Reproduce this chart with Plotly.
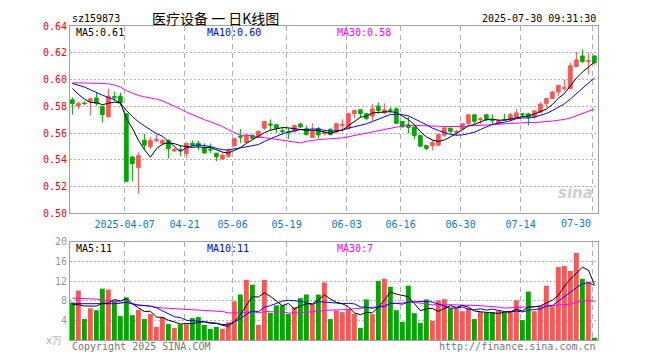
import plotly.graph_objects as go
import pandas as pd

dates = [
    "2025-03-24", "2025-03-25", "2025-03-26", "2025-03-27", "2025-03-28", "2025-03-31",
    "2025-04-01", "2025-04-02", "2025-04-03", "2025-04-07", "2025-04-08", "2025-04-09",
    "2025-04-10", "2025-04-11", "2025-04-14", "2025-04-15", "2025-04-16", "2025-04-17",
    "2025-04-18", "2025-04-21", "2025-04-22", "2025-04-23", "2025-04-24", "2025-04-25",
    "2025-04-28", "2025-04-29", "2025-04-30",
    "2025-05-06", "2025-05-07", "2025-05-08", "2025-05-09", "2025-05-12", "2025-05-13",
    "2025-05-14", "2025-05-15", "2025-05-16", "2025-05-19", "2025-05-20", "2025-05-21",
    "2025-05-22", "2025-05-23", "2025-05-26", "2025-05-27", "2025-05-28", "2025-05-29",
    "2025-05-30",
    "2025-06-03", "2025-06-04", "2025-06-05", "2025-06-06", "2025-06-09", "2025-06-10",
    "2025-06-11", "2025-06-12", "2025-06-13", "2025-06-16", "2025-06-17", "2025-06-18",
    "2025-06-19", "2025-06-20", "2025-06-23", "2025-06-24", "2025-06-25", "2025-06-26",
    "2025-06-27", "2025-06-30",
    "2025-07-01", "2025-07-02", "2025-07-03", "2025-07-04", "2025-07-07", "2025-07-08",
    "2025-07-09", "2025-07-10", "2025-07-11", "2025-07-14", "2025-07-15", "2025-07-16",
    "2025-07-17", "2025-07-18", "2025-07-21", "2025-07-22", "2025-07-23", "2025-07-24",
    "2025-07-25", "2025-07-28", "2025-07-29", "2025-07-30",
]

opens = [
    0.5849, 0.5802, 0.5824, 0.5837, 0.5863, 0.5798, 0.5722, 0.5873, 0.5876, 0.5744,
    0.5422, 0.5341, 0.5546, 0.5500, 0.5544, 0.5524, 0.5544, 0.5466, 0.5476, 0.5446,
    0.5524, 0.5524, 0.5488, 0.5481, 0.5450, 0.5406, 0.5426, 0.5505, 0.5577, 0.5529,
    0.5584, 0.5570, 0.5637, 0.5668, 0.5663, 0.5618, 0.5610, 0.5610, 0.5668, 0.5632,
    0.5567, 0.5634, 0.5596, 0.5630, 0.5610, 0.5656, 0.5634, 0.5745, 0.5774, 0.5745,
    0.5726, 0.5802, 0.5750, 0.5774, 0.5781, 0.5687, 0.5663, 0.5646, 0.5582, 0.5507,
    0.5505, 0.5510, 0.5584, 0.5637, 0.5606, 0.5630, 0.5671, 0.5737, 0.5700, 0.5737,
    0.5700, 0.5671, 0.5700, 0.5700, 0.5719, 0.5744, 0.5744, 0.5719, 0.5756, 0.5822,
    0.5859, 0.5907, 0.5932, 0.5932, 0.6098, 0.6176, 0.6134, 0.6176,
]
highs = [
    0.5866, 0.5834, 0.5837, 0.5863, 0.5900, 0.5805, 0.5932, 0.5910, 0.5902, 0.5749,
    0.5427, 0.5456, 0.5593, 0.5573, 0.5590, 0.5554, 0.5554, 0.5490, 0.5505, 0.5529,
    0.5544, 0.5544, 0.5522, 0.5522, 0.5450, 0.5450, 0.5486, 0.5565, 0.5630, 0.5591,
    0.5589, 0.5618, 0.5687, 0.5702, 0.5663, 0.5646, 0.5637, 0.5661, 0.5675, 0.5656,
    0.5673, 0.5646, 0.5618, 0.5630, 0.5670, 0.5702, 0.5752, 0.5774, 0.5774, 0.5745,
    0.5817, 0.5829, 0.5822, 0.5793, 0.5793, 0.5687, 0.5721, 0.5646, 0.5582, 0.5507,
    0.5548, 0.5589, 0.5646, 0.5637, 0.5625, 0.5670, 0.5737, 0.5737, 0.5719, 0.5741,
    0.5741, 0.5707, 0.5744, 0.5751, 0.5780, 0.5751, 0.5751, 0.5766, 0.5829, 0.5863,
    0.5915, 0.5956, 0.6000, 0.6127, 0.6207, 0.6225, 0.6200, 0.6183,
]
lows = [
    0.5739, 0.5778, 0.5810, 0.5732, 0.5805, 0.5680, 0.5717, 0.5839, 0.5805, 0.5234,
    0.5239, 0.5146, 0.5476, 0.5480, 0.5529, 0.5507, 0.5410, 0.5461, 0.5427, 0.5414,
    0.5500, 0.5471, 0.5445, 0.5452, 0.5390, 0.5404, 0.5418, 0.5500, 0.5524, 0.5529,
    0.5553, 0.5565, 0.5625, 0.5622, 0.5601, 0.5589, 0.5558, 0.5610, 0.5639, 0.5582,
    0.5562, 0.5560, 0.5582, 0.5582, 0.5596, 0.5610, 0.5629, 0.5709, 0.5714, 0.5697,
    0.5690, 0.5745, 0.5745, 0.5750, 0.5668, 0.5637, 0.5596, 0.5553, 0.5500, 0.5471,
    0.5471, 0.5505, 0.5572, 0.5596, 0.5577, 0.5625, 0.5663, 0.5668, 0.5668, 0.5693,
    0.5668, 0.5663, 0.5693, 0.5693, 0.5712, 0.5719, 0.5658, 0.5707, 0.5751, 0.5790,
    0.5854, 0.5878, 0.5915, 0.5927, 0.6093, 0.6122, 0.6037, 0.6110,
]
closes = [
    0.5820, 0.5822, 0.5820, 0.5856, 0.5822, 0.5739, 0.5876, 0.5863, 0.5827, 0.5241,
    0.5373, 0.5432, 0.5510, 0.5544, 0.5554, 0.5544, 0.5483, 0.5480, 0.5468, 0.5524,
    0.5510, 0.5505, 0.5452, 0.5474, 0.5423, 0.5435, 0.5471, 0.5558, 0.5570, 0.5584,
    0.5562, 0.5613, 0.5687, 0.5661, 0.5634, 0.5611, 0.5603, 0.5656, 0.5646, 0.5589,
    0.5613, 0.5586, 0.5606, 0.5589, 0.5670, 0.5663, 0.5745, 0.5769, 0.5745, 0.5709,
    0.5781, 0.5769, 0.5774, 0.5769, 0.5673, 0.5649, 0.5642, 0.5582, 0.5502, 0.5486,
    0.5529, 0.5589, 0.5639, 0.5613, 0.5613, 0.5670, 0.5737, 0.5688, 0.5707, 0.5700,
    0.5693, 0.5693, 0.5695, 0.5737, 0.5751, 0.5737, 0.5719, 0.5766, 0.5817, 0.5859,
    0.5907, 0.5956, 0.5939, 0.6103, 0.6146, 0.6134, 0.6142, 0.6127,
]
# daily volume (x万)
volumes = [
    7.67, 10.07, 4.27, 6.47, 6.07, 10.47, 10.27, 8.00, 4.87, 8.67,
    5.07, 6.13, 4.27, 5.27, 2.67, 4.67, 3.27, 2.47, 3.20, 3.20,
    4.47, 4.67, 3.07, 2.27, 2.67, 2.27, 3.60, 7.87, 9.27, 12.27,
    11.27, 3.07, 12.27, 5.53, 7.07, 7.07, 5.33, 6.67, 8.53, 9.27,
    7.20, 9.27, 11.73, 4.27, 6.00, 5.67, 6.33, 5.33, 2.47, 8.27,
    5.27, 12.07, 12.47, 10.87, 6.07, 3.67, 11.07, 5.47, 3.47, 8.27,
    3.87, 8.07, 8.33, 6.47, 6.47, 5.87, 6.47, 4.27, 5.67, 5.53,
    5.67, 5.93, 5.60, 5.93, 8.07, 4.07, 9.87, 5.87, 6.87, 11.07,
    6.87, 14.87, 15.07, 14.07, 17.73, 12.47, 11.87, 0.47,
]

# moving-average values visible before each window is complete
price_ma5_head = [0.5934, 0.5890, 0.5854, 0.5829]
price_ma10_head = [0.5971, 0.5959, 0.5944, 0.5924, 0.5902, 0.5883, 0.5866, 0.5849, 0.5824]
price_ma30_head = [
    0.5976, 0.5976, 0.5976, 0.5976, 0.5973, 0.5971, 0.5968, 0.5959, 0.5944, 0.5917,
    0.5898, 0.5881, 0.5871, 0.5863, 0.5854, 0.5841, 0.5822, 0.5805, 0.5780, 0.5756,
    0.5737, 0.5715, 0.5700, 0.5685, 0.5668, 0.5649, 0.5625, 0.5606, 0.5582,
]
vol_ma5_head = [7.20, 7.20, 6.93, 6.87]
vol_ma10_head = [7.40, 7.40, 7.35, 7.30, 7.30, 7.30, 7.35, 7.40, 7.50]
vol_ma30_head = [
    8.53, 8.53, 8.47, 8.40, 8.33, 8.20, 8.13, 7.93, 7.73, 7.53,
    7.33, 7.13, 6.93, 6.80, 6.67, 6.53, 6.47, 6.40, 6.33, 6.20,
    6.13, 6.07, 6.00, 5.93, 5.87, 5.80, 5.53, 5.47, 5.47,
]

tick_dates = ["2025-04-07", "2025-04-21", "2025-05-06", "2025-05-19", "2025-06-03",
              "2025-06-16", "2025-06-30", "2025-07-14", "2025-07-30"]
tick_labels = ["2025-04-07", "04-21", "05-06", "05-19", "06-03",
               "06-16", "06-30", "07-14", "07-30"]

code = "sz159873"
title_text = "医疗设备 一 日K线图"
stamp = "2025-07-30 09:31:30"


def moving_average(values, n, head):
    s = pd.Series(values).rolling(n).mean().tolist()
    return list(head) + s[len(head):]


idx = list(range(len(dates)))
pma5 = moving_average(closes, 5, price_ma5_head)
pma10 = moving_average(closes, 10, price_ma10_head)
pma30 = moving_average(closes, 30, price_ma30_head)
vma5 = moving_average(volumes, 5, vol_ma5_head)
vma10 = moving_average(volumes, 10, vol_ma10_head)
vma30 = moving_average(volumes, 30, vol_ma30_head)

RED = "#ff5555"
GREEN = "#00a800"
MONO = "DejaVu Sans Mono"
DATE_BLUE = "#0a78c8"

fig = go.Figure()
fig.add_trace(go.Candlestick(
    x=idx, open=opens, high=highs, low=lows, close=closes,
    increasing=dict(line=dict(color=RED, width=1), fillcolor=RED),
    decreasing=dict(line=dict(color=GREEN, width=1), fillcolor=GREEN),
    whiskerwidth=0, hoverinfo="skip", xaxis="x", yaxis="y", showlegend=False,
))
for vals, col in [(pma30, "#ff00ff"), (pma10, "#0000ff"), (pma5, "#000000")]:
    fig.add_trace(go.Scatter(x=idx, y=vals, mode="lines", line=dict(color=col, width=1),
                             hoverinfo="skip", xaxis="x", yaxis="y", showlegend=False))

bar_colors = [RED if c >= o else GREEN for o, c in zip(opens, closes)]
fig.add_trace(go.Bar(x=idx, y=volumes, marker=dict(color=bar_colors, line=dict(width=0)),
                     width=0.8, hoverinfo="skip", xaxis="x2", yaxis="y2", showlegend=False))
for vals, col in [(vma30, "#ff00ff"), (vma10, "#0000ff"), (vma5, "#000000")]:
    fig.add_trace(go.Scatter(x=idx, y=vals, mode="lines", line=dict(color=col, width=1),
                             hoverinfo="skip", xaxis="x2", yaxis="y2", showlegend=False))

tickvals = [dates.index(d) - 0.3 for d in tick_dates]
# the last label is drawn right-aligned to its gridline (as in the original), via annotation
axis_ticktext = tick_labels[:-1] + [""]

# the page body has an 8px default margin; page coordinates below are compensated
OFF = 8
W, H = 660 - OFF, 360 - OFF
L, R, T, B = 70 - OFF, 62, 20 - OFF, 20
PW, PH = W - L - R, H - T - B


def px(x):
    return (x - OFF - L) / PW


def py(y):
    return (H - B - (y - OFF)) / PH


xcommon = dict(range=[-0.4, 87.6], tickvals=tickvals, showgrid=True, gridcolor="#b0b0b0",
               griddash="5px,4px", gridwidth=1, zeroline=False, showline=True, mirror=True,
               linecolor="#a0a0a0", linewidth=1, fixedrange=True)
fig.update_layout(
    width=W, height=H, margin=dict(l=L, r=R, t=T, b=B),
    paper_bgcolor="white", plot_bgcolor="white", boxgap=0.15,
    xaxis=dict(**xcommon, anchor="y", ticktext=axis_ticktext, ticks="outside", ticklen=2,
               tickcolor="white", rangeslider=dict(visible=False),
               tickfont=dict(family=MONO, size=10, color=DATE_BLUE)),
    xaxis2=dict(**xcommon, anchor="y2", showticklabels=False, ticks=""),
    yaxis=dict(domain=[py(211), 1], range=[0.50, 0.64],
               tickvals=[0.50, 0.52, 0.54, 0.56, 0.58, 0.60, 0.62, 0.64], tickformat=".2f",
               tickfont=dict(family=MONO, size=10, color="#ff0000"), ticks="",
               showgrid=True, gridcolor="#b4b4b4", griddash="2px,2px", zeroline=False,
               showline=True, mirror=True, linecolor="#a0a0a0", fixedrange=True),
    yaxis2=dict(domain=[0, py(240)], range=[0, 20], tickvals=[4, 8, 12, 16, 20],
                tickfont=dict(family=MONO, size=10, color="#999999"), ticks="",
                showgrid=True, gridcolor="#b4b4b4", griddash="2px,2px", zeroline=False,
                showline=True, mirror=True, linecolor="#a0a0a0", fixedrange=True),
)


def note(x, y, text, color, size=10, family=MONO, anchor="left", **kw):
    fig.add_annotation(x=px(x), y=py(y), xref="paper", yref="paper", text=text,
                       showarrow=False, xanchor=anchor, yanchor="middle",
                       font=dict(family=family, size=size, color=color), **kw)


note(70, 12, code, "#000000")
note(150, 12, title_text, "#000000", size=14, family="Noto Sans CJK SC")
note(598, 12, stamp, "#000000", anchor="right")
note(74, 27, f"MA5:{pma5[-1]:.2f}", "#000000")
note(205, 27, f"MA10:{pma10[-1]:.2f}", "#0000ff")
note(335, 27, f"MA30:{pma30[-1]:.2f}", "#ff00ff")
note(74, 247, f"MA5:{int(vma5[-1])}", "#000000")
note(205, 247, f"MA10:{int(vma10[-1])}", "#0000ff")
note(335, 247, f"MA30:{int(vma30[-1])}", "#ff00ff")
note(64, 341, "x万", "#aaaaaa", anchor="right")
note(70, 347, "Copyright 2025 SINA.COM", "#777777")
note(598, 347, "http://finance.sina.com.cn", "#777777", anchor="right")
note(595, 190, "<b><i>sina</i></b>", "#d0d0d0", size=15, family="DejaVu Sans", anchor="right")

# last date label, right-aligned at its gridline
fig.add_annotation(x=tickvals[-1], y=py(221), xref="x", yref="paper", text=tick_labels[-1],
                   showarrow=False, xanchor="right", yanchor="middle",
                   font=dict(family=MONO, size=10, color=DATE_BLUE))

fig.write_html("out.html")
